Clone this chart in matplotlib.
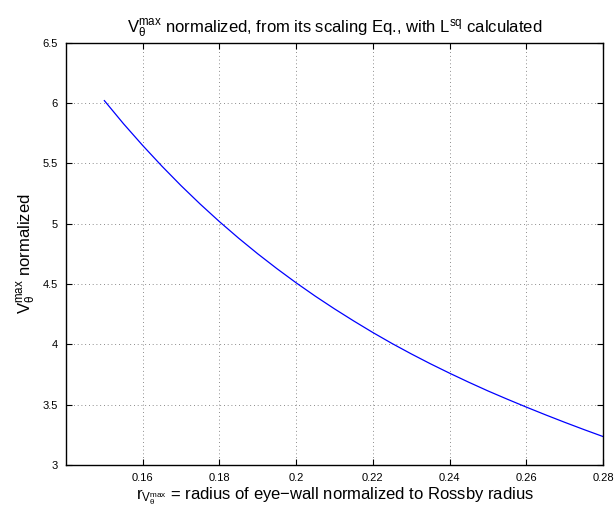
import matplotlib
matplotlib.use("Agg")
import matplotlib.pyplot as plt

plt.rcParams['font.family'] = ['Liberation Sans', 'DejaVu Sans']
plt.rcParams['mathtext.fontset'] = 'custom'
plt.rcParams['mathtext.rm'] = 'Liberation Sans'
plt.rcParams['mathtext.it'] = 'Liberation Sans'
plt.rcParams['mathtext.bf'] = 'Liberation Sans'

r_norm = [0.150, 0.155, 0.160, 0.165, 0.170, 0.175, 0.180, 0.185, 0.190, 0.195,
          0.200, 0.205, 0.210, 0.215, 0.220, 0.225, 0.230, 0.235, 0.240, 0.245,
          0.250, 0.255, 0.260, 0.265, 0.270, 0.275, 0.280]
v_norm = [6.020, 5.828, 5.648, 5.477, 5.315, 5.162, 5.017, 4.880, 4.750, 4.627,
          4.510, 4.399, 4.294, 4.194, 4.098, 4.007, 3.921, 3.839, 3.761, 3.686,
          3.614, 3.546, 3.480, 3.416, 3.354, 3.294, 3.236]
xticks = [0.16, 0.18, 0.2, 0.22, 0.24, 0.26, 0.28]
xticklabels = ['0.16', '0.18', '0.2', '0.22', '0.24', '0.26', '0.28']
yticks = [3, 3.5, 4, 4.5, 5, 5.5, 6, 6.5]
yticklabels = ['3', '3.5', '4', '4.5', '5', '5.5', '6', '6.5']

fig = plt.figure(figsize=(6.14, 5.15), dpi=100)
ax = fig.add_axes([66/614, 50/515, (603-66)/614, (465-42.7)/515])
ax.plot(r_norm, v_norm, color='#0000ff', linewidth=0.9)
ax.set_xlim(0.14, 0.28)
ax.set_ylim(3, 6.5)
ax.set_xticks(xticks)
ax.set_xticklabels(xticklabels)
ax.set_yticks(yticks)
ax.set_yticklabels(yticklabels)
ax.tick_params(direction='in', top=True, right=True, labelsize=8, length=4, width=0.8, pad=6)
ax.grid(True, linestyle=(0, (1, 3.5)), color='#666666', linewidth=0.6)
for s in ax.spines.values():
    s.set_linewidth(1.0)

ax.set_title(r'$\mathregular{V_{\theta}^{max}}$ normalized, from its scaling Eq., with $\mathregular{L^{sq}}$ calculated',
             fontsize=12, pad=7)
ax.set_xlabel(r'$\mathregular{r_{V_{\theta}^{max}}}$ = radius of eye$-$wall normalized to Rossby radius', fontsize=12, labelpad=1)
ax.set_ylabel(r'$\mathregular{V_{\theta}^{max}}$ normalized', fontsize=12, labelpad=3)

fig.savefig('out.png', dpi=100)
